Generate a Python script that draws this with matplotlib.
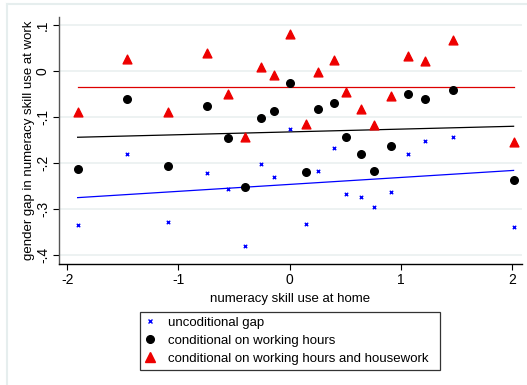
import numpy as np
import matplotlib
matplotlib.use("Agg")
import matplotlib.pyplot as plt
from matplotlib.lines import Line2D

plt.rcParams['font.family'] = ['Liberation Sans', 'DejaVu Sans']

# numeracy skill use at home (one value per country)
home_use = [-1.906, -1.462, -1.094, -0.743, -0.555, -0.403, -0.261, -0.141, 0.0, 0.144,
            0.257, 0.395, 0.509, 0.635, 0.752, 0.905, 1.061, 1.216, 1.468, 2.010]

# gender gap in numeracy skill use at work
gap_uncond = [-0.335, -0.180, -0.328, -0.222, -0.256, -0.379, -0.202, -0.229, -0.125, -0.333,
              -0.217, -0.167, -0.267, -0.273, -0.296, -0.262, -0.179, -0.152, -0.144, -0.339]
gap_hours = [-0.213, -0.060, -0.206, -0.075, -0.145, -0.251, -0.101, -0.086, -0.025, -0.219,
             -0.083, -0.070, -0.144, -0.180, -0.218, -0.163, -0.049, -0.061, -0.041, -0.237]
gap_hours_hw = [-0.088, 0.026, -0.088, 0.039, -0.050, -0.144, 0.008, -0.008, 0.080, -0.115,
                -0.002, 0.025, -0.045, -0.083, -0.118, -0.054, 0.032, 0.022, 0.068, -0.155]

# fitted lines: (intercept, slope)
fit_uncond = (-0.246, 0.0151)
fit_hours = (-0.132, 0.0061)
fit_hours_hw = (-0.035, 0.0)

labels = ["uncoditional gap", "conditional on working hours",
          "conditional on working hours and housework"]
yticks = [-0.4, -0.3, -0.2, -0.1, 0.0, 0.1]
ytick_labels = ["-.4", "-.3", "-.2", "-.1", "0", ".1"]
xticks = [-2, -1, 0, 1, 2]

fig = plt.figure(figsize=(5.27, 3.85), dpi=100)
ax = fig.add_axes([0.1114, 0.3135, 0.879, 0.6416])

grid_col = '#eaf0f0'
for yv in yticks:
    ax.axhline(yv, color=grid_col, lw=1.2, zorder=0)

x = np.array(home_use)
xs = np.array([x.min(), x.max()])
for (b0, b1), col in [(fit_uncond, '#0000ff'), (fit_hours, 'black'), (fit_hours_hw, '#dd0000')]:
    ax.plot(xs, b0 + b1 * xs, color=col, lw=0.9, zorder=2)

ax.scatter(x, gap_uncond, marker='x', s=6, color='#0000ff', linewidths=1.0, zorder=3)
ax.scatter(x, gap_hours, marker='o', s=30, color='black', zorder=3)
ax.scatter(x, gap_hours_hw, marker='^', s=40, color='#ee0000', zorder=3)

ax.set_xlim(-2.076, 2.085)
ax.set_ylim(-0.4196, 0.117)
ax.set_xticks(xticks)
ax.set_xticklabels([str(v) for v in xticks])
ax.set_yticks(yticks)
ax.set_yticklabels(ytick_labels, rotation=90, va='center')
ax.tick_params(labelsize=10, length=4.3, width=0.8, pad=2)

ax.spines['top'].set_visible(False)
ax.spines['right'].set_visible(False)
ax.spines['left'].set_color('#555555')
ax.spines['left'].set_linewidth(1.0)
ax.spines['bottom'].set_linewidth(1.0)

ax.set_xlabel("numeracy skill use at home", fontsize=9.5, labelpad=4)
ax.set_ylabel("gender gap in numeracy skill use at work", fontsize=9.5, labelpad=1)

handles = [
    Line2D([], [], marker='x', color='#0000ff', ls='none', markersize=2.5, markeredgewidth=1.0),
    Line2D([], [], marker='o', color='black', ls='none', markersize=5.5),
    Line2D([], [], marker='^', color='#ee0000', ls='none', markersize=6.5),
]
leg = fig.legend(handles, labels, loc='lower left',
                 bbox_to_anchor=(140 / 527, 15.5 / 385, 300 / 527, 62 / 385),
                 mode='expand', fontsize=9.5, frameon=True, fancybox=False,
                 handlelength=0.8, handletextpad=1.0, borderpad=0.35,
                 labelspacing=0.45, borderaxespad=0)
leg.get_frame().set_edgecolor('black')
leg.get_frame().set_linewidth(0.9)

# thin outer border of the graph region
fig.add_artist(Line2D([7 / 527, 7 / 527], [0, 1 - 4 / 385], color='#e6eeee', lw=1.5))
fig.add_artist(Line2D([7 / 527, 1], [1 - 4 / 385, 1 - 4 / 385], color='#e6eeee', lw=1.5))

fig.savefig("out.png", dpi=100)
